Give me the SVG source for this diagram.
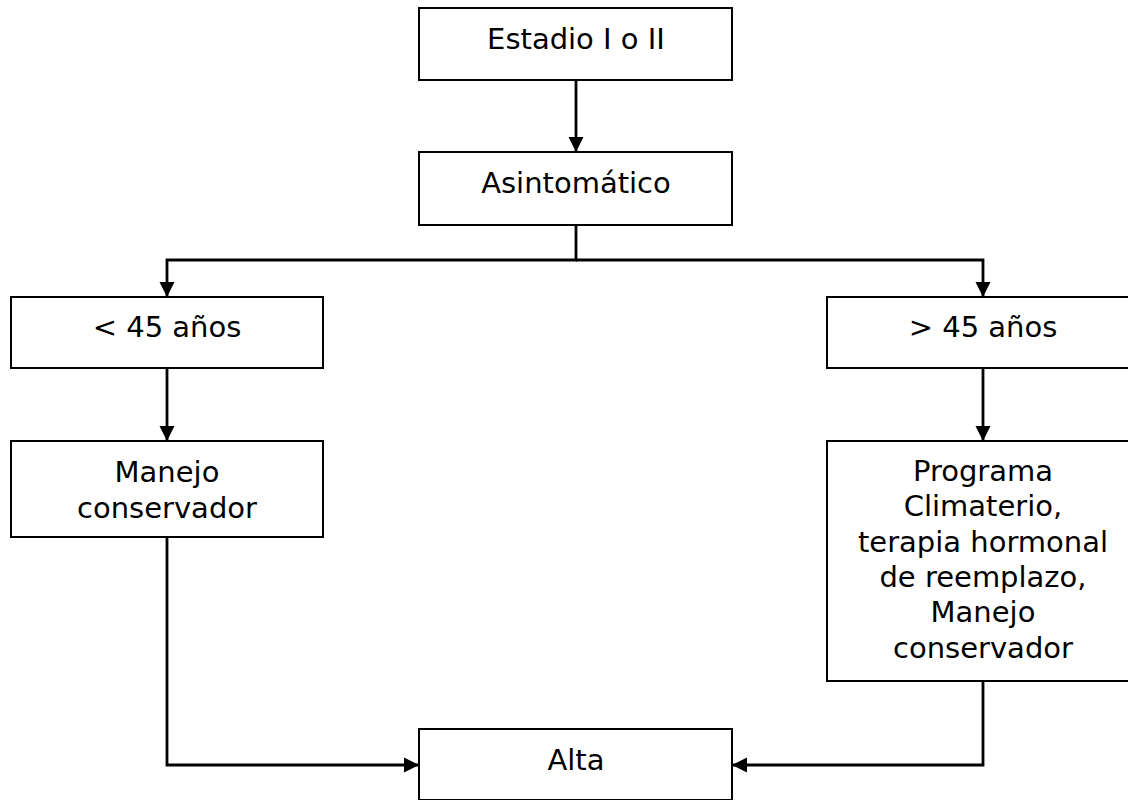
<svg xmlns="http://www.w3.org/2000/svg" width="1128" height="800" viewBox="0 0 1128 800">
  <style>
    .box { fill: #ffffff; stroke: #000000; stroke-width: 2; }
    .label { font-family: "DejaVu Sans", Verdana, sans-serif; font-size: 29px; fill: #000000; text-anchor: middle; }
    .wire { fill: none; stroke: #000000; stroke-width: 2.8; }
  </style>
  <defs>
    <marker id="arrow" markerUnits="userSpaceOnUse" markerWidth="16" markerHeight="16" viewBox="0 0 16 16" refX="15" refY="8" orient="auto">
      <path d="M0,0.5 L15,8 L0,15.5 Z" fill="#000000"/>
    </marker>
  </defs>
  <rect width="1128" height="800" fill="#ffffff"/>

  <!-- flow connectors -->
  <g id="connectors">
    <path class="wire" d="M576,80 V152" marker-end="url(#arrow)"/>
    <path class="wire" d="M576,225 V260 H167 V297" marker-end="url(#arrow)"/>
    <path class="wire" d="M576,260 H983 V297" marker-end="url(#arrow)"/>
    <path class="wire" d="M167,368 V441" marker-end="url(#arrow)"/>
    <path class="wire" d="M983,368 V441" marker-end="url(#arrow)"/>
    <path class="wire" d="M167,537 V765 H419" marker-end="url(#arrow)"/>
    <path class="wire" d="M983,681 V765 H732" marker-end="url(#arrow)"/>
  </g>

  <g id="estadio">
    <rect class="box" x="419" y="8" width="313" height="72"/>
    <text class="label" x="576" y="49">Estadio I o II</text>
  </g>

  <g id="asintomatico">
    <rect class="box" x="419" y="152" width="313" height="73"/>
    <text class="label" x="576" y="193">Asintomático</text>
  </g>

  <g id="menor45">
    <rect class="box" x="11" y="297" width="312" height="71"/>
    <text class="label" x="167" y="337">&lt; 45 años</text>
  </g>

  <g id="mayor45">
    <rect class="box" x="827" y="297" width="312" height="71"/>
    <text class="label" x="983" y="337">&gt; 45 años</text>
  </g>

  <g id="manejo">
    <rect class="box" x="11" y="441" width="312" height="96"/>
    <text class="label" x="167" y="482">Manejo</text>
    <text class="label" x="167" y="518">conservador</text>
  </g>

  <g id="programa">
    <rect class="box" x="827" y="441" width="312" height="240"/>
    <text class="label" x="983" y="481">Programa</text>
    <text class="label" x="983" y="516">Climaterio,</text>
    <text class="label" x="983" y="552">terapia hormonal</text>
    <text class="label" x="983" y="587">de reemplazo,</text>
    <text class="label" x="983" y="622">Manejo</text>
    <text class="label" x="983" y="658">conservador</text>
  </g>

  <g id="alta">
    <rect class="box" x="419" y="729" width="313" height="71"/>
    <text class="label" x="576" y="770">Alta</text>
  </g>
</svg>
